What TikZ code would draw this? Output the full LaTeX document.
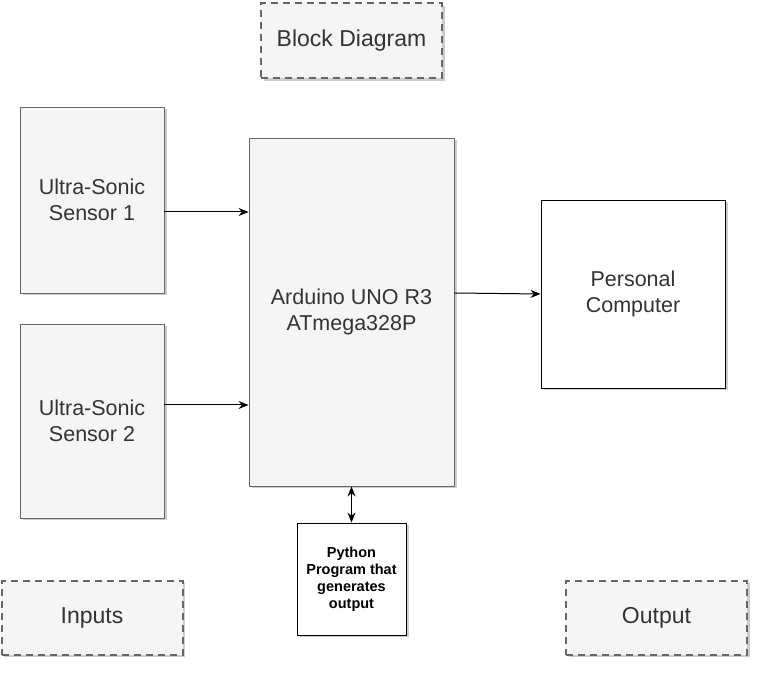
\documentclass[tikz,border=0pt]{standalone}
\usepackage{fontspec}
\setmainfont{Liberation Sans}
\usepackage{tikz}
\usetikzlibrary{arrows.meta,shadows}

\definecolor{boxfill}{HTML}{F5F5F5}
\definecolor{boxline}{HTML}{666666}
\definecolor{boxtext}{HTML}{333333}

\begin{document}
\begin{tikzpicture}[x=1pt,y=1pt,
	graybox/.style={draw=boxline,fill=boxfill,text=boxtext,line width=0.9pt,align=center,inner sep=0pt,
		font=\fontsize{21.5}{26}\selectfont,drop shadow={opacity=0.4,shadow xshift=2.5pt,shadow yshift=-2.5pt}},
	whitebox/.style={draw=black,fill=white,line width=0.9pt,align=center,inner sep=0pt,
		drop shadow={opacity=0.4,shadow xshift=2.5pt,shadow yshift=-2.5pt}},
	tagbox/.style={draw=boxline,fill=boxfill,text=boxtext,line width=2pt,dash pattern=on 7pt off 5pt,
		inner sep=0pt,font=\fontsize{23}{27}\selectfont,
		drop shadow={opacity=0.4,shadow xshift=2.5pt,shadow yshift=-2.5pt}},
	tip/.tip={Stealth[length=10pt,width=8pt]},
	arr/.style={-tip,line width=1pt}]
\useasboundingbox (0,0) rectangle (764,675);

\node[tagbox,minimum width=181pt,minimum height=75pt] (title) at (351.5,634) {Block Diagram};
\node[graybox,minimum width=144pt,minimum height=186pt] (s1) at (92,475) {Ultra-Sonic\\Sensor 1};
\node[graybox,minimum width=144pt,minimum height=194pt] (s2) at (92,254) {Ultra-Sonic\\Sensor 2};
\node[graybox,minimum width=205pt,minimum height=348pt] (ard) at (351.5,363) {Arduino UNO R3\\ATmega328P};
\node[whitebox,minimum width=184pt,minimum height=188pt,font=\fontsize{21.5}{26}\selectfont,text=boxtext] (pc) at (633,381) {Personal\\Computer};
\node[whitebox,minimum width=109pt,minimum height=112pt,font=\fontsize{14.5}{17}\selectfont\bfseries] (py) at (351.5,96) {Python\\Program that\\generates\\output};
\node[tagbox,minimum width=181pt,minimum height=74pt] (inputs) at (92,57) {Inputs};
\node[tagbox,minimum width=181pt,minimum height=74pt] (output) at (656.5,57) {Output};

\draw[arr] ([yshift=-12pt]s1.east) -- ([yshift=-12pt]s1.east -| ard.west);
\draw[arr] ([yshift=16pt]s2.east) -- ([yshift=16pt]s2.east -| ard.west);
\draw[arr] ([yshift=19pt]ard.east) -- (pc.west);
\draw[tip-tip,line width=1pt] (py.north) -- (ard.south);
\end{tikzpicture}
\end{document}
